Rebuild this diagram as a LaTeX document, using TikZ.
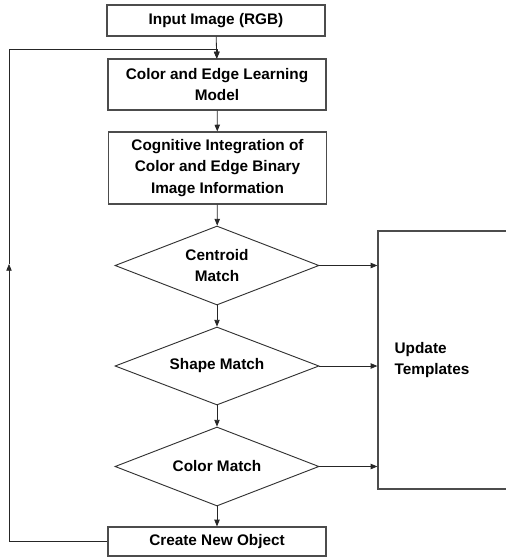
\documentclass[tikz,border=0pt]{standalone}
\usepackage{fontspec}
\setmainfont{Liberation Sans}
\usetikzlibrary{shapes.geometric,arrows.meta}
\tikzset{
  txt/.style={font=\fontsize{11.5}{16}\selectfont\bfseries},
  stepbox/.style={txt,draw=black!70,line width=0.9pt,rectangle,align=center,inner sep=0pt,minimum width=163.5pt},
  decision/.style={txt,draw=black!80,line width=0.7pt,diamond,aspect=2.58,align=center,inner sep=0pt,minimum width=153pt,minimum height=59.25pt},
  conn/.style={draw=black!85,line width=0.6pt,-{Triangle[length=5pt,width=4pt]}},
  plain/.style={draw=black!85,line width=0.6pt}
}
\begin{document}
\begin{tikzpicture}[x=0.75pt,y=-0.75pt]
  \useasboundingbox (0,0) rectangle (506,558);
  \clip (0,0) rectangle (506,558);
  % main column
  \node[stepbox,minimum height=23.25pt] (input) at (216,20.5) {Input Image (RGB)}; % input
  \node[stepbox,minimum height=38.25pt] (learn) at (217,84.5) {Color and Edge Learning\\Model}; % learning model
  \node[stepbox,minimum height=54pt] (integ) at (217.5,168) {Cognitive Integration of\\Color and Edge Binary\\Image Information}; % integration
  \node[decision] (centroid) at (217,265.5) {Centroid\\Match}; % centroid test
  \node[decision,minimum height=58.5pt] (shape) at (217,366) {Shape Match}; % shape test
  \node[decision] (color) at (217,466.5) {Color Match}; % colour test
  \node[stepbox,minimum height=21.75pt] (create) at (217,541.5) {Create New Object}; % new object
  % right box (runs off the page)
  \node[txt,draw=black!70,line width=0.9pt,rectangle,minimum width=195pt,minimum height=193.5pt,
        text width=170pt,align=left,inner xsep=11.25pt] (update) at (508,360) {Update\\Templates};
  % arrows down the column
  \draw[conn] (input) -- (learn);
  \draw[conn] (learn) -- (integ);
  \draw[conn] (integ) -- (centroid);
  \draw[conn] (centroid) -- (shape);
  \draw[conn] (shape) -- (color);
  \draw[conn] (color) -- (create);
  % arrows to templates
  \draw[conn] (centroid.east) -- (centroid.east -| update.west);
  \draw[conn] (shape.east) -- (shape.east -| update.west);
  \draw[conn] (color.east) -- (color.east -| update.west);
  % feedback loop
  \coordinate (loopmid) at (9,264);
  \coordinate (loopcorner) at (9,49);
  \draw[conn] (create.west) -| (loopmid);
  \draw[conn] (loopmid) -- (loopcorner) -| (learn.north);
\end{tikzpicture}
\end{document}
